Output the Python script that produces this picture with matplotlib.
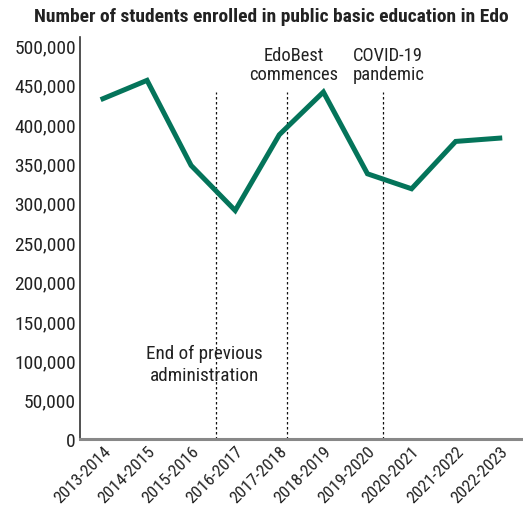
import matplotlib
matplotlib.use("Agg")
import matplotlib.pyplot as plt
import matplotlib.transforms as mtransforms
from matplotlib.ticker import FuncFormatter, MultipleLocator

years = ["2013-2014", "2014-2015", "2015-2016", "2016-2017", "2017-2018",
         "2018-2019", "2019-2020", "2020-2021", "2021-2022", "2022-2023"]
students = [432000, 455300, 347300, 290100, 386300,
            440500, 336700, 317700, 377800, 382000]

# event markers: position along the category axis and label
event_pos = [2.57, 4.17, 6.35]
event_labels = ["End of previous\nadministration", "EdoBest\ncommences", "COVID-19\npandemic"]

GREEN = "#04745a"
FONT = ["Liberation Sans Narrow", "Roboto Condensed", "DejaVu Sans"]
plt.rcParams["font.family"] = FONT

fig = plt.figure(figsize=(5.23, 5.10), dpi=100)
ax = fig.add_axes([0.153, 0.137, 0.843, 0.788])

x = list(range(len(years)))
ax.plot(x, students, color=GREEN, lw=3.6, solid_joinstyle="miter", zorder=3)

for p in event_pos:
    ax.plot([p, p], [0, 440000], color="#111111", lw=0.9,
            linestyle=(0, (2, 2)), zorder=2)

ax.text(2.31, 95000, event_labels[0], ha="center", va="center",
        fontsize=13.8, color="#222222", linespacing=1.3)
ax.text(4.33, 475000, event_labels[1], ha="center", va="center",
        fontsize=13.3, color="#222222", linespacing=1.05)
ax.text(6.47, 475000, event_labels[2], ha="center", va="center",
        fontsize=13.3, color="#222222", linespacing=1.05)

ax.set_xlim(-0.52, 9.48)
ax.set_ylim(0, 510000)
ax.yaxis.set_major_locator(MultipleLocator(50000))
ax.yaxis.set_major_formatter(FuncFormatter(lambda v, _: f"{int(v):,}"))
ax.set_xticks(x)
ax.set_xticklabels(years, rotation=45, ha="right", va="top",
                   rotation_mode="anchor", fontsize=12.5, color="#222222")
offset = mtransforms.ScaledTranslation(10 / 100, 0, fig.dpi_scale_trans)
for lab in ax.get_xticklabels():
    lab.set_transform(lab.get_transform() + offset)

ax.tick_params(axis="y", length=0, pad=3, labelsize=14, labelcolor="#222222")
ax.tick_params(axis="x", length=0, pad=3)

for s in ("top", "right"):
    ax.spines[s].set_visible(False)
ax.spines["left"].set_color("#333333")
ax.spines["left"].set_linewidth(1.2)
ax.spines["bottom"].set_color("#888888")
ax.spines["bottom"].set_linewidth(2.2)

fig.text(0.518, 0.966, "Number of students enrolled in public basic education in Edo",
         ha="center", va="center", fontsize=14.0, fontweight="bold", color="#222222")

fig.savefig("out.png", dpi=100)
